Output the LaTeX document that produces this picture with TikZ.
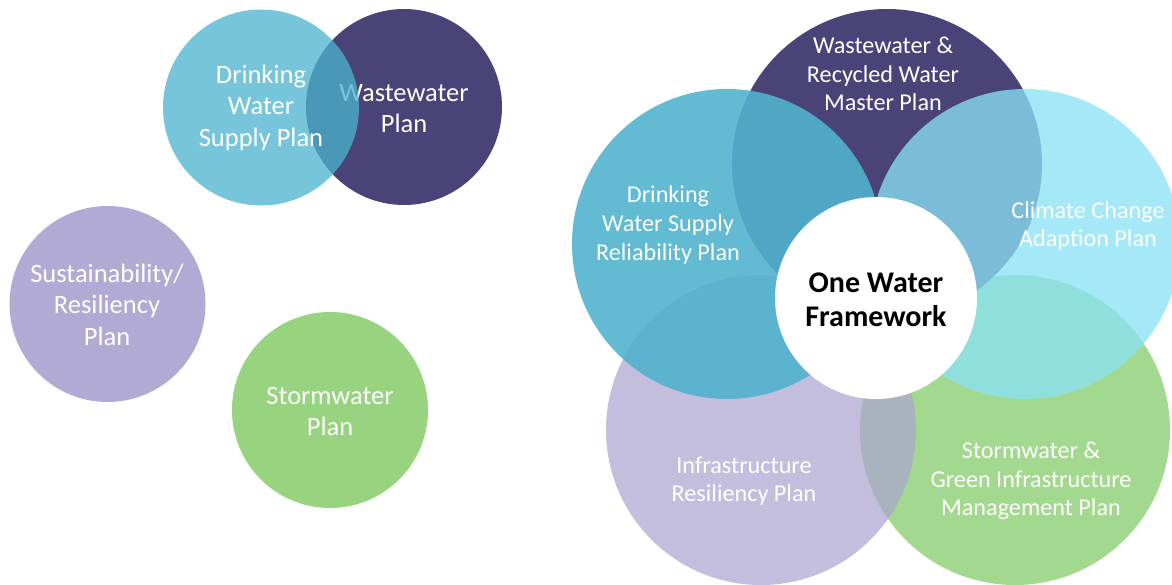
\documentclass[tikz,border=0pt]{standalone}
\usepackage{fontspec}
\setmainfont{Carlito}
\definecolor{lDrink}{RGB}{75,179,206}
\definecolor{purp}{RGB}{74,67,119}
\definecolor{lSust}{RGB}{176,170,212}
\definecolor{lStorm}{RGB}{152,212,128}
\definecolor{rDrink}{RGB}{81,178,206}
\definecolor{rClim}{RGB}{138,225,246}
\definecolor{rInfra}{RGB}{172,165,208}
\definecolor{rStorm}{RGB}{163,217,142}
\begin{document}
\begin{tikzpicture}[x=1pt,y=-1pt,
  smallc/.style={circle,draw=none,inner sep=0pt,minimum size=196pt},
  bigc/.style={circle,draw=none,inner sep=0pt,minimum size=310pt},
  ltxt/.style={text=white,align=center,font=\fontsize{26.5}{31.5}\selectfont,inner sep=0pt},
  rtxt/.style={text=white,align=center,font=\fontsize{24.2}{28.7}\selectfont,inner sep=0pt}]
\useasboundingbox (0,0) rectangle (1172,584);
\clip (0,0) rectangle (1172,584);
% left group
\node[smallc,fill=purp] (lw) at (404,107) {};
\node[ltxt] (lwt) at (404,108.5) {Wastewater\\Plan};
\node[smallc,fill=lDrink,fill opacity=0.76] (ld) at (261,107.5) {};
\node[ltxt] (ldt) at (261,107.5) {Drinking\\Water\\Supply Plan};
\node[smallc,fill=lSust] (ls) at (107.5,304) {};
\node[ltxt] (lst) at (107,304.5) {Sustainability/\\Resiliency\\Plan};
\node[smallc,fill=lStorm] (lsw) at (330,410) {};
\node[ltxt] (lswt) at (330,411.5) {Stormwater\\Plan};
% right group
\node[bigc,fill=rStorm] (rs) at (1015,430) {};
\node[bigc,fill=rInfra,fill opacity=0.72] (ri) at (761,430) {};
\node[bigc,fill=purp] (rw) at (887,164) {};
\node[bigc,fill=rDrink,fill opacity=0.9] (rd) at (727,244) {};
\node[bigc,fill=rClim,fill opacity=0.77] (rc) at (1025,244) {};
\node[circle,fill=white,inner sep=0pt,minimum size=202pt] (ow) at (876,298) {};
\node[align=center,inner sep=0pt,font=\bfseries\fontsize{30}{34}\selectfont] (owt) at (876,299.5) {One Water\\Framework};
\node[rtxt] (rwt) at (883,74) {Wastewater \&\\Recycled Water\\Master Plan};
\node[rtxt] (rdt) at (668,225) {Drinking\\Water Supply\\Reliability Plan};
\node[rtxt] (rct) at (1088,226) {Climate Change\\Adaption Plan};
\node[rtxt] (rit) at (744,481) {Infrastructure\\Resiliency Plan};
\node[rtxt] (rst) at (1031,481) {Stormwater \&\\Green Infrastructure\\Management Plan};
\end{tikzpicture}
\end{document}
